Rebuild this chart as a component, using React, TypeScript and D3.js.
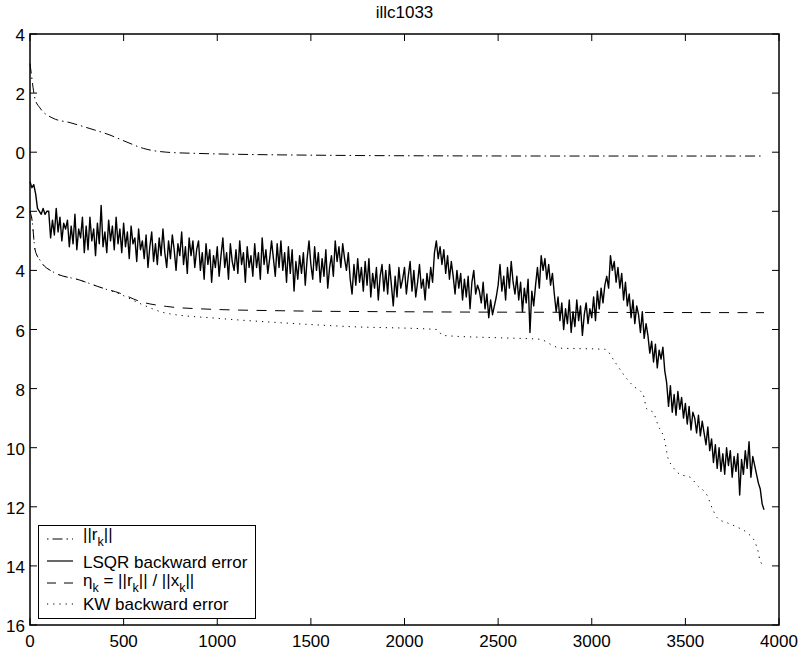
import React from "react";
import * as d3 from "d3";

const TITLE = "illc1033";
const X_TICKS = [0, 500, 1000, 1500, 2000, 2500, 3000, 3500, 4000];
const X_TICK_LABELS = ["0", "500", "1000", "1500", "2000", "2500", "3000", "3500", "4000"];
const Y_TICKS = [4, 2, 0, -2, -4, -6, -8, -10, -12, -14, -16];
const Y_TICK_LABELS = ["4", "2", "0", "2", "4", "6", "8", "10", "12", "14", "16"];

// ||r_k|| (log10), [iteration, value]
const RK_NORM: [number, number][] = [
  [0, 3.0], [8, 2.6], [16, 2.2], [27, 1.8], [53, 1.5], [123, 1.15], [214, 1.0],
  [320, 0.8], [427, 0.58], [518, 0.34], [605, 0.13], [730, 0.0], [890, -0.04],
  [1200, -0.08], [1500, -0.1], [2000, -0.12], [3000, -0.13], [3920, -0.13],
];

// eta_k = ||r_k|| / ||x_k||
const ETA: [number, number][] = [
  [0, -2.0], [11, -2.3], [27, -3.3], [53, -3.65], [123, -4.05], [267, -4.33],
  [374, -4.57], [480, -4.77], [587, -5.05], [730, -5.22], [908, -5.3],
  [1389, -5.37], [2000, -5.4], [3000, -5.42], [3920, -5.43],
];

// KW backward error
const KW: [number, number][] = [
  [0, -2.0], [11, -2.3], [27, -3.3], [53, -3.65], [123, -4.05], [267, -4.33],
  [374, -4.57], [480, -4.8], [587, -5.12], [730, -5.45], [1000, -5.62],
  [1389, -5.79], [1700, -5.9], [2173, -6.0], [2205, -6.2], [2500, -6.28],
  [2724, -6.33], [2780, -6.5], [2830, -6.63], [3070, -6.67], [3124, -7.1],
  [3167, -7.5], [3220, -7.9], [3274, -8.2], [3295, -8.7], [3327, -8.8],
  [3354, -9.24], [3391, -9.8], [3407, -10.35], [3428, -10.6], [3471, -10.9],
  [3525, -11.0], [3567, -11.3], [3615, -11.6], [3647, -12.1], [3674, -12.4],
  [3727, -12.55], [3781, -12.7], [3834, -12.9], [3872, -13.2], [3888, -13.5],
  [3898, -13.8], [3920, -14.0],
];

// LSQR backward error, one value every 10 iterations starting at 0
const LSQR_STEP = 10;
const LSQR: number[] = [
  -1.0, -1.2, -1.1, -1.4, -1.9, -2.0, -2.1, -1.9, -2.1, -2.0,
  -2.0, -2.9, -2.3, -2.8, -1.9, -2.7, -2.2, -3.0, -2.4, -2.6,
  -2.3, -3.2, -2.5, -3.1, -2.1, -3.3, -2.6, -2.9, -2.2, -3.4,
  -2.5, -3.3, -2.2, -3.0, -2.6, -3.5, -2.4, -3.1, -1.8, -3.2,
  -2.7, -3.4, -2.3, -3.0, -2.5, -3.3, -2.2, -3.1, -2.6, -3.4,
  -2.4, -3.2, -2.7, -3.6, -2.5, -3.1, -2.9, -3.7, -2.6, -3.3,
  -3.0, -3.6, -2.8, -3.9, -3.2, -2.7, -3.7, -3.1, -3.8, -2.9,
  -3.5, -2.6, -3.4, -3.9, -3.0, -3.6, -2.8, -3.3, -4.0, -3.1,
  -3.5, -2.7, -3.8, -3.2, -4.1, -2.9, -3.5, -3.0, -3.9, -3.3,
  -3.0, -4.0, -3.4, -4.3, -3.1, -3.8, -3.3, -4.4, -3.5, -3.9,
  -3.2, -4.2, -3.5, -2.9, -3.9, -3.4, -4.3, -3.1, -3.7, -4.0,
  -3.3, -4.1, -3.0, -3.8, -3.4, -4.4, -3.2, -3.9, -3.5, -4.2,
  -3.1, -3.9, -3.4, -4.3, -2.9, -3.8, -3.3, -4.1, -3.6, -3.0,
  -3.6, -4.2, -3.1, -3.9, -3.0, -4.0, -3.4, -4.4, -3.2, -4.1,
  -3.3, -4.7, -3.7, -4.3, -3.5, -4.1, -3.4, -4.5, -3.6, -3.0,
  -3.8, -4.3, -3.2, -4.0, -3.4, -4.4, -3.6, -4.2, -3.3, -4.6,
  -3.9, -3.5, -4.2, -3.0, -3.7, -3.2, -3.9, -3.1, -3.6, -4.0,
  -3.4, -4.3, -4.8, -3.8, -4.5, -3.6, -4.4, -3.9, -4.7, -3.7,
  -4.5, -3.6, -4.9, -4.1, -4.6, -3.9, -5.0, -4.2, -3.8, -4.7,
  -4.0, -4.8, -3.8, -4.5, -5.2, -4.2, -4.9, -3.9, -4.6, -4.3,
  -3.9, -4.8, -4.2, -3.7, -4.7, -4.0, -4.9, -4.4, -3.8, -4.6,
  -4.3, -5.0, -4.1, -4.6, -3.9, -4.4, -3.4, -3.0, -3.6, -3.2,
  -3.8, -3.3, -4.1, -3.5, -4.3, -3.7, -4.2, -4.8, -4.0, -4.6,
  -4.1, -5.0, -4.3, -4.9, -4.2, -5.3, -4.4, -4.0, -4.8, -4.5,
  -4.7, -5.1, -4.4, -5.3, -4.8, -5.6, -5.0, -5.5, -5.2, -4.9,
  -4.5, -3.8, -4.7, -4.2, -5.0, -3.9, -4.6, -3.7, -4.4, -4.8,
  -4.2, -5.0, -4.4, -5.4, -4.6, -5.1, -4.3, -6.1, -4.7, -5.2,
  -4.5, -3.9, -4.6, -3.5, -4.0, -3.6, -4.3, -3.8, -4.5, -4.1,
  -4.8, -5.4, -4.9, -5.7, -5.1, -6.0, -5.3, -5.8, -5.0, -6.1,
  -5.4, -5.9, -5.0, -5.7, -5.2, -6.2, -5.5, -5.1, -5.8, -5.3,
  -5.6, -4.9, -5.7, -4.7, -5.3, -4.6, -5.1, -4.5, -4.2, -4.6,
  -3.5, -4.0, -3.7, -4.4, -3.9, -4.6, -4.1, -5.0, -4.4, -5.2,
  -4.8, -5.6, -5.0, -5.8, -5.2, -5.5, -6.1, -5.4, -6.3, -5.8,
  -6.2, -6.8, -6.4, -7.1, -6.5, -7.3, -6.7, -7.0, -6.6, -7.4,
  -7.8, -8.6, -7.9, -8.8, -8.2, -8.9, -8.1, -8.7, -8.3, -9.0,
  -8.5, -9.2, -8.6, -9.4, -8.8, -9.0, -9.5, -8.9, -9.6, -9.1,
  -9.5, -9.9, -9.3, -10.1, -9.7, -10.5, -9.9, -10.7, -10.0, -10.8,
  -10.2, -10.9, -10.0, -10.6, -10.1, -11.0, -10.3, -10.8, -10.2, -11.6,
  -10.4, -10.9, -10.1, -10.7, -9.8, -11.0, -10.3, -10.6, -10.9, -11.2,
  -11.4, -11.9, -12.1,
];

const W = 799;
const H = 652;
const M = { left: 30, right: 779, top: 34, bottom: 625 };
const FONT = "'Liberation Sans', Arial, Helvetica, sans-serif";

export default function App() {
  const x = d3.scaleLinear().domain([0, 4000]).range([M.left, M.right]);
  const y = d3.scaleLinear().domain([4, -16]).range([M.top, M.bottom]);

  const pairLine = d3
    .line<[number, number]>()
    .x((d) => x(d[0]))
    .y((d) => y(d[1]))
    .curve(d3.curveMonotoneX);

  const lsqrLine = d3
    .line<number>()
    .x((_, i) => x(i * LSQR_STEP))
    .y((d) => y(d));

  const tickLen = 7;
  const fs = 17;

  const lg = { x0: 38.5, y0: 525.5, x1: 255.5, y1: 618.5, sx0: 47, sx1: 73, tx: 83 };
  const subFs = 12.5;

  return (
    <svg
      width={W}
      height={H}
      style={{ position: "absolute", left: 0, top: 0, background: "#fff" }}
      fontFamily={FONT}
    >
      <rect x={0} y={0} width={W} height={H} fill="#fff" />
      <text x={(M.left + M.right) / 2} y={18} textAnchor="middle" fontSize={fs}>
        {TITLE}
      </text>

      {/* data lines */}
      <path d={pairLine(RK_NORM) || ""} fill="none" stroke="#000" strokeWidth={1} strokeDasharray="10,4,1.5,4" />
      <path d={pairLine(ETA) || ""} fill="none" stroke="#000" strokeWidth={1} strokeDasharray="10,8.5" />
      <path d={pairLine(KW) || ""} fill="none" stroke="#000" strokeWidth={1} strokeDasharray="1.2,5" />
      <path d={lsqrLine(LSQR) || ""} fill="none" stroke="#000" strokeWidth={1.4} strokeLinejoin="round" />

      {/* axes box */}
      <rect
        x={M.left}
        y={M.top}
        width={M.right - M.left}
        height={M.bottom - M.top}
        fill="none"
        stroke="#000"
        strokeWidth={1.5}
      />
      {X_TICKS.map((t, i) => (
        <g key={"x" + t}>
          <line x1={x(t)} x2={x(t)} y1={M.bottom} y2={M.bottom - tickLen} stroke="#000" />
          <line x1={x(t)} x2={x(t)} y1={M.top} y2={M.top + tickLen} stroke="#000" />
          <text x={x(t)} y={M.bottom + 22} textAnchor="middle" fontSize={fs}>
            {X_TICK_LABELS[i]}
          </text>
        </g>
      ))}
      {Y_TICKS.map((t, i) => (
        <g key={"y" + t}>
          <line x1={M.left} x2={M.left + tickLen} y1={y(t)} y2={y(t)} stroke="#000" />
          <line x1={M.right} x2={M.right - tickLen} y1={y(t)} y2={y(t)} stroke="#000" />
          <text x={25} y={y(t) + 7} textAnchor="end" fontSize={fs}>
            {Y_TICK_LABELS[i]}
          </text>
        </g>
      ))}

      {/* legend */}
      <rect x={lg.x0} y={lg.y0} width={lg.x1 - lg.x0} height={lg.y1 - lg.y0} fill="#fff" stroke="#000" strokeWidth={1} />
      <line x1={lg.sx0} x2={lg.sx1} y1={539} y2={539} stroke="#000" strokeDasharray="1.5,4,10,4" />
      <text x={lg.tx} y={540} fontSize={fs}>
        ||r<tspan fontSize={subFs} dy={6}>k</tspan>
        <tspan dy={-6}>||</tspan>
      </text>
      <line x1={lg.sx0} x2={lg.sx1} y1={561} y2={561} stroke="#000" strokeWidth={1.2} />
      <text x={lg.tx} y={568} fontSize={fs}>
        LSQR backward error
      </text>
      <line x1={lg.sx0} x2={lg.sx1} y1={583} y2={583} stroke="#000" strokeDasharray="9,8" />
      <text x={lg.tx} y={586} fontSize={fs}>
        η<tspan fontSize={subFs} dy={6}>k</tspan>
        <tspan dy={-6}> = ||r</tspan>
        <tspan fontSize={subFs} dy={6}>k</tspan>
        <tspan dy={-6}>|| / ||x</tspan>
        <tspan fontSize={subFs} dy={6}>k</tspan>
        <tspan dy={-6}>||</tspan>
      </text>
      <line x1={lg.sx0} x2={lg.sx1} y1={604} y2={604} stroke="#000" strokeDasharray="1.2,5" />
      <text x={lg.tx} y={610} fontSize={fs}>
        KW backward error
      </text>
    </svg>
  );
}
